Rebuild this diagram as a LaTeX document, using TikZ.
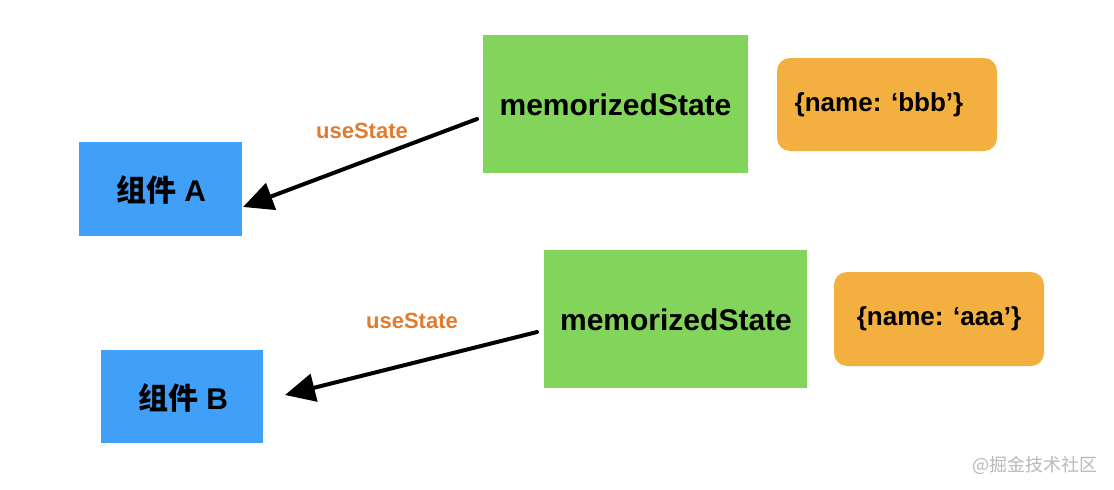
\documentclass[tikz,border=0pt]{standalone}
\usepackage{fontspec}
\setmainfont{Liberation Sans}
\newfontfamily\cjk{Noto Sans CJK SC}
\usetikzlibrary{arrows.meta,decorations.pathmorphing}
\definecolor{cblue}{HTML}{40A0F8}
\definecolor{cgreen}{HTML}{83D45A}
\definecolor{corange}{HTML}{F3B040}
\definecolor{ctext}{HTML}{E07B30}
\definecolor{cwm}{HTML}{B8B8B8}
\tikzset{
  lbl/.style={font=\bfseries\fontsize{30}{34}\selectfont},
  vallbl/.style={font=\bfseries\fontsize{26}{30}\selectfont},
  uselbl/.style={font=\bfseries\fontsize{22}{26}\selectfont, text=ctext},
  sketch/.style={line width=4pt, black, line cap=round, -{Triangle[length=30pt,width=28pt]}},
}
\begin{document}
\begin{tikzpicture}[x=1pt,y=-1pt]
\useasboundingbox (0,0) rectangle (1114,490);
% boxes
\fill[cblue] (79,142) rectangle (242,236);
\node[lbl] (A) at (161,190) {{\cjk\bfseries 组件} A};
\fill[cblue] (101,350) rectangle (263,443);
\node[lbl] (B) at (183,398) {{\cjk\bfseries 组件} B};
\fill[cgreen] (483,35) rectangle (748,173);
\node[lbl] (M1) at (615.5,105) {memorizedState};
\fill[cgreen] (544,250) rectangle (807,388);
\node[lbl] (M2) at (676,320) {memorizedState};
\fill[corange, rounded corners=13pt] (777,58) rectangle (997,151);
\node[vallbl] (V1) at (879,104.5) {\{name: ‘bbb’\}};
\fill[corange, rounded corners=13pt] (834,272) rectangle (1044,366);
\node[vallbl] (V2) at (939,319) {\{name: ‘aaa’\}};
% arrows
\coordinate (s1) at (477,119);
\coordinate (e1) at (243,207);
\coordinate (s2) at (537,332);
\coordinate (e2) at (285,395);
\draw[sketch] (s1) -- (e1);
\draw[sketch] (s2) -- (e2);
\node[uselbl] (U1) at (362,131) {useState};
\node[uselbl] (U2) at (412,321) {useState};
% watermark
\node[text=cwm, font=\cjk\fontsize{18}{21}\selectfont, anchor=east, inner sep=0pt] (W) at (1098,465) {@掘金技术社区};
\end{tikzpicture}
\end{document}
